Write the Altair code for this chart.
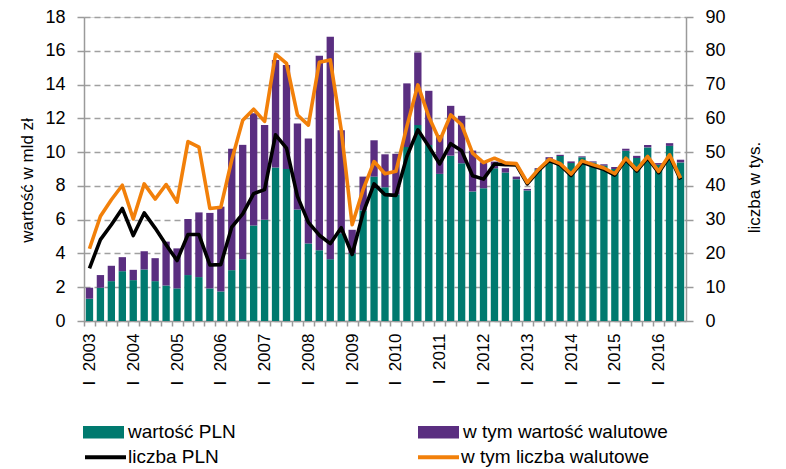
import altair as alt
import pandas as pd

FONT = "Liberation Sans"

years = list(range(2003, 2017))
roman = ["I", "II", "III", "IV"]
kwartaly = [f"{r} {y}" for y in years for r in roman][:55]

# wartość (mld zł) - część PLN i część walutowa (segment nad nią)
wartosc_pln = [1.32, 1.97, 2.36, 2.95, 2.42, 3.05, 2.36, 2.10, 1.93, 2.72,
               2.60, 1.93, 1.75, 3.01, 3.66, 5.65, 6.00, 9.09, 9.00, 6.60,
               4.59, 4.19, 3.66, 5.20, 4.00, 6.55, 8.55, 7.92, 7.50, 10.30,
               11.60, 10.42, 8.71, 9.79, 9.34, 7.67, 7.86, 9.04, 8.79, 8.40,
               7.73, 8.98, 9.57, 9.77, 9.35, 9.70, 9.39, 9.20, 9.00, 10.08,
               9.65, 10.28, 9.25, 10.37, 9.39]
wartosc_walutowe = [0.65, 0.75, 0.91, 0.83, 0.61, 1.08, 1.36, 2.60, 2.37, 3.32,
                    3.83, 4.47, 5.02, 7.19, 6.77, 6.65, 5.60, 6.36, 6.16, 5.10,
                    6.21, 11.51, 13.17, 6.10, 1.40, 2.00, 2.15, 1.95, 2.40, 3.77,
                    4.30, 3.21, 2.29, 2.95, 2.81, 2.42, 1.54, 0.40, 0.26, 0.15,
                    0.09, 0.07, 0.13, 0.07, 0.10, 0.05, 0.06, 0.08, 0.12, 0.12,
                    0.13, 0.14, 0.10, 0.16, 0.16]

# liczba (tys.)
liczba_pln = [15.6, 24.1, 28.5, 33.3, 25.3, 32.0, 27.5, 22.6, 17.9, 25.6,
              25.6, 16.6, 16.7, 27.8, 31.7, 37.7, 38.9, 55.1, 51.2, 36.9,
              29.2, 25.4, 22.9, 27.6, 19.7, 32.0, 40.6, 37.4, 37.2, 48.7,
              56.6, 51.7, 46.5, 52.5, 50.4, 43.0, 42.0, 46.5, 46.3, 46.2,
              40.6, 44.4, 47.5, 46.2, 43.1, 47.0, 45.9, 44.9, 43.2, 47.8,
              44.4, 48.3, 43.9, 48.8, 41.9]
liczba_walutowe = [21.4, 31.0, 35.9, 40.2, 30.2, 40.6, 36.1, 40.4, 35.2, 53.1,
                   51.5, 33.3, 33.7, 47.7, 59.4, 62.7, 59.1, 79.0, 76.3, 61.0,
                   58.0, 76.6, 77.3, 56.6, 28.5, 38.9, 47.2, 43.6, 44.3, 57.6,
                   69.9, 60.5, 53.4, 61.0, 58.1, 49.7, 46.9, 48.2, 46.8, 46.6,
                   41.0, 44.8, 47.9, 46.6, 43.5, 47.4, 46.3, 45.3, 43.6, 48.2,
                   44.8, 48.7, 44.3, 49.2, 42.3]

bar_names = ["wartość PLN", "w tym wartość walutowe"]
bar_colors = ["#007A6F", "#5A2E80"]
line_names = ["liczba PLN", "w tym liczba walutowe"]
line_colors = ["#000000", "#F2800A"]

n = len(kwartaly)
df_bar = pd.DataFrame({
    "kw": kwartaly * 2,
    "typ": [bar_names[0]] * n + [bar_names[1]] * n,
    "v": wartosc_pln + wartosc_walutowe,
    "ord": [0] * n + [1] * n,
})
df_line = pd.DataFrame({
    "kw": kwartaly * 2,
    "seria": [line_names[0]] * n + [line_names[1]] * n,
    "n": liczba_pln + liczba_walutowe,
})

W, H = 602, 304
step = W / n
nb = "\u00a0"

x_enc = alt.X(
    "kw:N", sort=kwartaly,
    scale=alt.Scale(paddingInner=0.33, paddingOuter=0.165),
    axis=alt.Axis(
        title=None, labelAngle=270, labelFontSize=17, labelFont=FONT,
        labelExpr=f"indexof(datum.value, 'I ') === 0 ? 'I{nb}{nb}' + substring(datum.value, 2) : ''",
        tickOffset=-step / 2, labelOffset=step / 2, tickSize=5, tickWidth=1.5,
        tickColor="#9a9a9a", domainColor="#9a9a9a", domainWidth=1.5,
        labelPadding=7, grid=False, labelColor="black",
    ),
)

bars = alt.Chart(df_bar).mark_bar().encode(
    x=x_enc,
    y=alt.Y(
        "v:Q", stack="zero", scale=alt.Scale(domain=[0, 18], nice=False),
        axis=alt.Axis(
            values=list(range(0, 19, 2)), title="wartość w mld zł",
            titleFontSize=17, titleFont=FONT, titleFontWeight="normal",
            titleColor="black", titleY=163, titlePadding=8,
            labelFontSize=18, labelFont=FONT, labelColor="black", labelPadding=12,
            tickSize=7, tickWidth=1.5, tickColor="#9a9a9a",
            domainColor="#9a9a9a", domainWidth=1.5,
            grid=True, gridDash=[6, 4], gridColor="#a0a0a0", gridWidth=1.3,
        ),
    ),
    fill=alt.Fill(
        "typ:N", scale=alt.Scale(domain=bar_names, range=bar_colors),
        legend=alt.Legend(
            orient="none", legendX=-1, legendY=394.5, direction="horizontal",
            columns=2, columnPadding=182, title=None, padding=0,
            symbolType="M-1,-0.3H1V0.3H-1Z", symbolSize=1681,
            symbolStrokeWidth=0, labelFontSize=19, labelFont=FONT,
            labelOffset=4, labelColor="black", labelLimit=500,
        ),
    ),
    order=alt.Order("ord:Q"),
)

y_line = alt.Y(
    "n:Q", scale=alt.Scale(domain=[0, 90], nice=False),
    axis=alt.Axis(
        orient="right", values=list(range(0, 91, 10)), title="liczba w tys.",
        titleFontSize=17, titleFont=FONT, titleFontWeight="normal",
        titleColor="black", titleAngle=270, titleY=170, titlePadding=38,
        labelFontSize=18, labelFont=FONT, labelColor="black", labelPadding=12,
        tickSize=7, tickWidth=1.5, tickColor="#9a9a9a",
        domainColor="#9a9a9a", domainWidth=1.5, grid=False,
    ),
)
stroke_enc = alt.Stroke(
    "seria:N", scale=alt.Scale(domain=line_names, range=line_colors),
    legend=alt.Legend(
        orient="none", legendX=-1, legendY=417.5, direction="horizontal",
        columns=2, columnPadding=191, title=None, padding=0,
        symbolType="stroke", symbolSize=1681, symbolStrokeWidth=4,
        labelFontSize=19, labelFont=FONT, labelOffset=0, labelColor="black",
        labelLimit=500,
    ),
)

line_base = alt.Chart(df_line).mark_line(strokeWidth=3.6, strokeJoin="round")
black_line = line_base.transform_filter(
    alt.datum.seria == line_names[0]
).encode(x=x_enc, y=y_line, stroke=stroke_enc)
orange_line = line_base.transform_filter(
    alt.datum.seria == line_names[1]
).encode(x=x_enc, y=y_line, stroke=stroke_enc)

lines = alt.layer(black_line, orange_line)

chart = alt.layer(bars, lines).resolve_scale(y="independent").properties(
    width=W, height=H,
    padding={"left": 10, "top": 0, "right": 5, "bottom": 5},
).configure_view(stroke=None).configure(font=FONT)

chart.save("out.html", embed_options={"renderer": "svg", "actions": False})
